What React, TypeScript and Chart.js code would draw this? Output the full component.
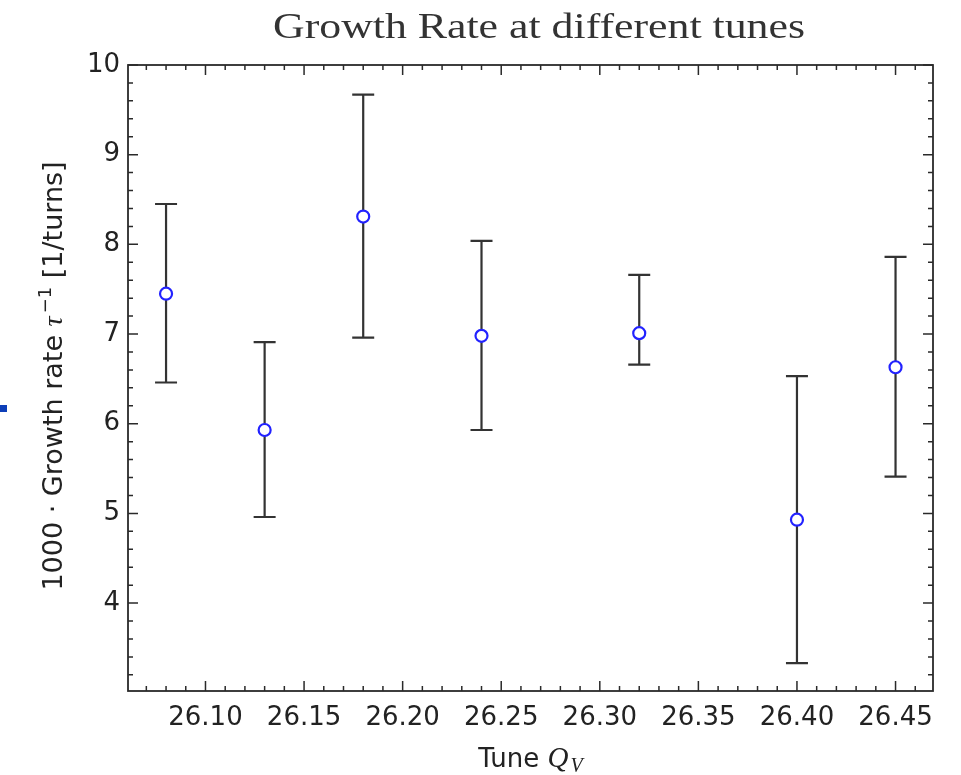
import React, { useEffect, useRef } from "react";
import { Chart, registerables } from "chart.js";

Chart.register(...registerables);

const tunes = [26.08, 26.13, 26.18, 26.24, 26.32, 26.4, 26.45];
const growth = [7.45, 5.93, 8.31, 6.98, 7.01, 4.93, 6.63];
const errHigh = [8.45, 6.91, 9.67, 8.04, 7.66, 6.53, 7.86];
const errLow = [6.46, 4.96, 6.96, 5.93, 6.66, 3.33, 5.41];

const xTicks = [26.1, 26.15, 26.2, 26.25, 26.3, 26.35, 26.4, 26.45];
const yTicks = [4, 5, 6, 7, 8, 9, 10];
const xMinor = 0.01;
const yMinor = 0.2;

const titleText = "Growth Rate at different tunes";
const xTitleText = "Tune ";
const yTitleParts = ["1000 · Growth rate ", "τ", "−1", " [1/turns]"];

const INK = "#2a2a2a";

const errorBarPlugin = {
  id: "errorBars",
  beforeDatasetsDraw(chart: any) {
    const { ctx, scales } = chart;
    const xs = scales.x;
    const ys = scales.y;
    ctx.save();
    ctx.strokeStyle = "#333";
    ctx.lineWidth = 2.2;
    ctx.lineCap = "butt";
    tunes.forEach((t, i) => {
      const px = xs.getPixelForValue(t);
      const top = ys.getPixelForValue(errHigh[i]);
      const bot = ys.getPixelForValue(errLow[i]);
      ctx.beginPath();
      ctx.moveTo(px, top);
      ctx.lineTo(px, bot);
      ctx.moveTo(px - 11, top);
      ctx.lineTo(px + 11, top);
      ctx.moveTo(px - 11, bot);
      ctx.lineTo(px + 11, bot);
      ctx.stroke();
    });
    ctx.restore();
  },
};

const framePlugin = {
  id: "frame",
  afterDraw(chart: any) {
    const { ctx, chartArea: a, scales } = chart;
    const xs = scales.x;
    const ys = scales.y;
    ctx.save();
    // frame
    ctx.strokeStyle = INK;
    ctx.lineWidth = 1.8;
    ctx.strokeRect(a.left, a.top, a.right - a.left, a.bottom - a.top);
    // ticks
    ctx.lineWidth = 1.5;
    ctx.beginPath();
    const xStart = Math.ceil((xs.min - 1e-9) / xMinor);
    const xEnd = Math.floor((xs.max + 1e-9) / xMinor);
    for (let k = xStart; k <= xEnd; k++) {
      const v = k * xMinor;
      const major = xTicks.some((t) => Math.abs(t - v) < 1e-6);
      const len = major ? 10 : 5;
      const px = xs.getPixelForValue(v);
      ctx.moveTo(px, a.bottom);
      ctx.lineTo(px, a.bottom - len);
      ctx.moveTo(px, a.top);
      ctx.lineTo(px, a.top + len);
    }
    const yStart = Math.ceil((ys.min - 1e-9) / yMinor);
    const yEnd = Math.floor((ys.max + 1e-9) / yMinor);
    for (let k = yStart; k <= yEnd; k++) {
      const v = k * yMinor;
      const major = yTicks.some((t) => Math.abs(t - v) < 1e-6);
      const len = major ? 10 : 5;
      const py = ys.getPixelForValue(v);
      ctx.moveTo(a.left, py);
      ctx.lineTo(a.left + len, py);
      ctx.moveTo(a.right, py);
      ctx.lineTo(a.right - len, py);
    }
    ctx.stroke();

    // title
    ctx.fillStyle = "#333";
    ctx.font = '35px "Liberation Serif"';
    ctx.textAlign = "left";
    ctx.textBaseline = "alphabetic";
    const tw = ctx.measureText(titleText).width;
    const targetW = 532;
    ctx.save();
    ctx.translate(539 - targetW / 2, 38);
    ctx.scale(targetW / tw, 1);
    ctx.fillText(titleText, 0, 0);
    ctx.restore();

    ctx.fillStyle = "#222";
    // x title
    const cx = (a.left + a.right) / 2;
    const sans = '26px "DejaVu Sans"';
    const qFont = 'italic 29px "Liberation Serif"';
    const vFont = 'italic 20px "Liberation Serif"';
    ctx.font = sans;
    const w1 = ctx.measureText(xTitleText).width;
    ctx.font = qFont;
    const w2 = ctx.measureText("Q").width;
    ctx.font = vFont;
    const w3 = ctx.measureText("V").width;
    let x0 = cx - (w1 + w2 + w3 + 2) / 2;
    const by = 767;
    ctx.font = sans;
    ctx.fillText(xTitleText, x0, by);
    x0 += w1;
    ctx.font = qFont;
    ctx.fillText("Q", x0, by);
    x0 += w2 + 2;
    ctx.font = vFont;
    ctx.fillText("V", x0, by + 5);

    // y title
    const ysans = '27px "DejaVu Sans"';
    const fonts = [ysans, 'italic 28px "Liberation Serif"', '18px "DejaVu Sans"', ysans];
    const offs = [0, 0, -11, 0];
    const widths = yTitleParts.map((p, i) => {
      ctx.font = fonts[i];
      return ctx.measureText(p).width + (i === 1 ? 3 : 0);
    });
    const total = widths.reduce((s, w) => s + w, 0);
    ctx.save();
    ctx.translate(62, 376);
    ctx.rotate(-Math.PI / 2);
    let xx = -total / 2;
    yTitleParts.forEach((p, i) => {
      ctx.font = fonts[i];
      ctx.fillText(p, xx, offs[i]);
      xx += widths[i];
    });
    ctx.restore();

    ctx.restore();
  },
};

export default function App() {
  const ref = useRef<HTMLCanvasElement>(null);
  useEffect(() => {
    if (!ref.current) return;
    const chart = new Chart(ref.current, {
      type: "scatter",
      data: {
        datasets: [
          {
            data: tunes.map((t, i) => ({ x: t, y: growth[i] })),
            pointRadius: 6,
            pointBorderWidth: 2.2,
            pointBorderColor: "#2222ff",
            pointBackgroundColor: "#ffffff",
            showLine: false,
          },
        ],
      },
      options: {
        responsive: false,
        animation: false,
        events: [],
        layout: { padding: { left: 0, top: 65, right: 28, bottom: 0 } },
        plugins: { legend: { display: false }, tooltip: { enabled: false }, title: { display: false } },
        scales: {
          x: {
            type: "linear",
            position: "bottom",
            min: 26.0607,
            max: 26.469,
            afterBuildTicks: (s: any) => {
              s.ticks = xTicks.map((v) => ({ value: v }));
            },
            afterFit: (s: any) => {
              s.height = 84;
            },
            ticks: {
              callback: (v: any) => Number(v).toFixed(2),
              font: { family: "DejaVu Sans", size: 26 },
              color: "#222",
              padding: 12,
              maxRotation: 0,
              autoSkip: false,
            },
            grid: { display: false, drawTicks: false },
            border: { display: false },
          },
          y: {
            type: "linear",
            min: 3.02,
            max: 10,
            afterBuildTicks: (s: any) => {
              s.ticks = yTicks.map((v) => ({ value: v }));
            },
            afterFit: (s: any) => {
              s.width = 128;
            },
            ticks: {
              callback: (v: any) => String(v),
              font: { family: "DejaVu Sans", size: 26 },
              color: "#222",
              padding: 8,
              autoSkip: false,
            },
            grid: { display: false, drawTicks: false },
            border: { display: false },
          },
        },
      },
      plugins: [errorBarPlugin, framePlugin],
    });
    return () => chart.destroy();
  }, []);
  return (
    <div style={{ position: "absolute", left: 0, top: 0, width: 961, height: 775, background: "#fff" }}>
      <canvas ref={ref} width={961} height={775} style={{ width: 961, height: 775, display: "block" }} />
      <div style={{ position: "absolute", left: 0, top: 405, width: 7, height: 7, background: "#0d3fb8" }} />
    </div>
  );
}
